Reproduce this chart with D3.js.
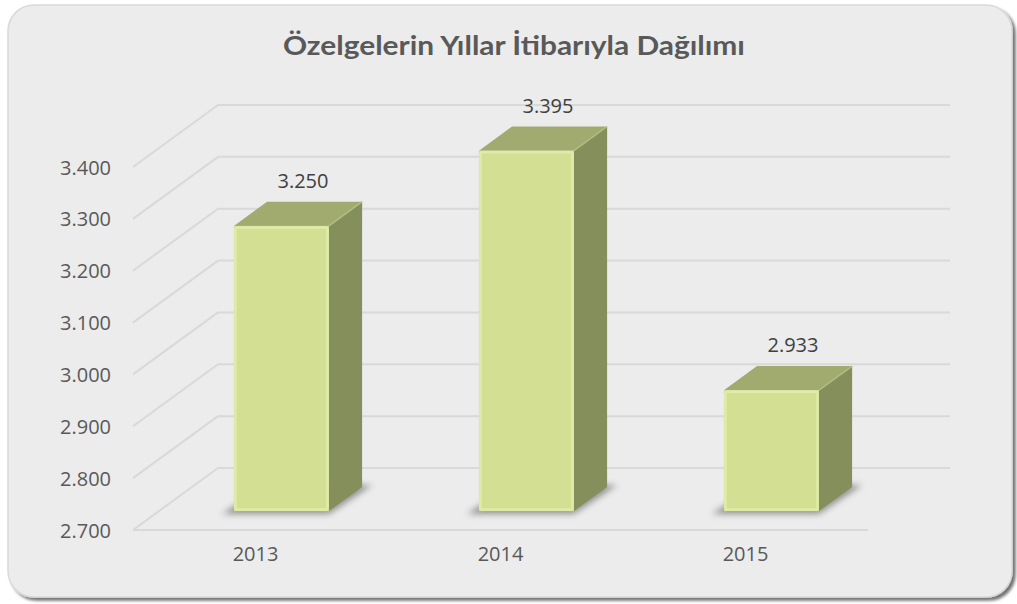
<!DOCTYPE html>
<html><head><meta charset="utf-8">
<script src="https://cdn.jsdelivr.net/npm/d3@7"></script>
<style>html,body{margin:0;padding:0;background:#fff;}svg{display:block;}</style>
</head><body>
<script>
const title = "Özelgelerin Yıllar İtibarıyla Dağılımı";
const categories = ["2013", "2014", "2015"];
const values = [3250, 3395, 2933];
const yTicks = [2700, 2800, 2900, 3000, 3100, 3200, 3300, 3400];

const W = 1017, H = 604;
const svg = d3.select("body").append("svg").attr("width", W).attr("height", H);
const defs = svg.append("defs");
const sh = defs.append("filter").attr("id","panelShadow").attr("x","-5%").attr("y","-5%").attr("width","110%").attr("height","110%");
sh.append("feGaussianBlur").attr("in","SourceAlpha").attr("stdDeviation",1.5).attr("result","b");
sh.append("feOffset").attr("in","b").attr("dx",3).attr("dy",3).attr("result","o");
sh.append("feComponentTransfer").attr("in","o").attr("result","o2").append("feFuncA").attr("type","linear").attr("slope",0.55);
const m = sh.append("feMerge"); m.append("feMergeNode").attr("in","o2"); m.append("feMergeNode").attr("in","SourceGraphic");
const bf = defs.append("filter").attr("id","barShadow").attr("x","-30%").attr("y","-50%").attr("width","160%").attr("height","200%");
bf.append("feGaussianBlur").attr("stdDeviation",3);

// panel
svg.append("rect").attr("x",8).attr("y",5).attr("width",1004).attr("height",592)
  .attr("rx",26).attr("ry",26).attr("fill","#ebeceb").attr("stroke","#d9d9d9").attr("stroke-width",1.5)
  .attr("filter","url(#panelShadow)");

// title
const tt = svg.append("text").attr("x",514).attr("y",55).attr("text-anchor","middle")
  .attr("font-family","Lato, 'Open Sans', sans-serif").attr("font-weight","bold").attr("font-size",26)
  .attr("fill","#595959").text(title);
const tl = tt.node().getComputedTextLength();
if (Math.abs(tl - 462) > 4) tt.attr("textLength",462).attr("lengthAdjust","spacingAndGlyphs");

// geometry
const left = 133, right = 868;
const depth = {x: 85, y: -62};
const backRight = 950;
const y = d3.scaleLinear().domain([2700, 3400]).range([530, 167]);
const x = d3.scaleBand().domain(categories).range([left, right]).paddingInner(0.612).paddingOuter(0.306);
const loc = d3.formatLocale({decimal: ",", thousands: ".", grouping: [3], currency: ["", ""]});
const fmt = loc.format(",.0f");
const font = "'Open Sans', sans-serif";

const grid = svg.append("g").attr("stroke","#d8d9d8").attr("stroke-width",2).attr("fill","none");
yTicks.forEach(t => {
  const yy = y(t);
  grid.append("line").attr("x1",left).attr("y1",yy).attr("x2",left+depth.x).attr("y2",yy+depth.y);
  grid.append("line").attr("x1",left+depth.x).attr("y1",yy+depth.y).attr("x2",backRight).attr("y2",yy+depth.y);
});
grid.append("line").attr("x1",left).attr("y1",y(2700)).attr("x2",right).attr("y2",y(2700));

// y axis labels
const yAxis = d3.axisLeft(y).tickValues(yTicks).tickFormat(fmt).tickSize(0).tickPadding(0);
const ya = svg.append("g").attr("transform",`translate(${left-22},0)`).call(yAxis);
ya.select(".domain").remove();
ya.selectAll("text").attr("font-family",font).attr("font-size",20).attr("fill","#595959").attr("dy","0.35em");

// x axis labels
const xAxis = d3.axisBottom(x).tickSize(0).tickPadding(0);
const xa = svg.append("g").attr("transform",`translate(0,${y(2700)+17})`).call(xAxis);
xa.select(".domain").remove();
xa.selectAll("text").attr("font-family",font).attr("font-size",20).attr("fill","#595959").attr("dy","0.71em");

// bars
const f0 = 0.305, fd = 0.39;
const off = {x: depth.x*f0, y: depth.y*f0};
const bd = {x: depth.x*fd, y: depth.y*fd};
const bars = svg.append("g");
categories.forEach((c, i) => {
  const v = values[i];
  const x0 = x(c) + off.x, x1 = x0 + x.bandwidth();
  const yt = y(v) + off.y, yb = y(2700) + off.y;
  const g = bars.append("g");
  // floor shadow
  g.append("polygon").attr("points",[[x0-12,yb+3],[x1,yb+3],[x1+bd.x+10,yb+bd.y-2],[x0+bd.x,yb+bd.y-2]].map(p=>p.join(",")).join(" "))
    .attr("fill","#4a4a4a").attr("opacity",0.55).attr("filter","url(#barShadow)");
  // side
  g.append("polygon").attr("points",[[x1,yt],[x1+bd.x,yt+bd.y],[x1+bd.x,yb+bd.y],[x1,yb]].map(p=>p.join(",")).join(" "))
    .attr("fill","#858f5c");
  // top
  g.append("polygon").attr("points",[[x0,yt],[x1,yt],[x1+bd.x,yt+bd.y],[x0+bd.x,yt+bd.y]].map(p=>p.join(",")).join(" "))
    .attr("fill","#a1ab70");
  // front
  g.append("rect").attr("x",x0).attr("y",yt).attr("width",x1-x0).attr("height",yb-yt).attr("fill","#d3e094");
  g.append("rect").attr("x",x0+1.5).attr("y",yt+1.5).attr("width",x1-x0-3).attr("height",yb-yt-3)
    .attr("fill","none").attr("stroke","#e1eba8").attr("stroke-width",2.5).attr("rx",2);
  g.append("line").attr("x1",x1).attr("y1",yt).attr("x2",x1+bd.x).attr("y2",yt+bd.y).attr("stroke","#b3bd80").attr("stroke-width",1.5);
  // label
  svg.append("text").attr("x",(x0+x1)/2 + bd.x*0.65).attr("y",yt+bd.y-14).attr("text-anchor","middle")
    .attr("font-family",font).attr("font-size",20).attr("fill","#404040").text(fmt(v));
});
</script>
</body></html>
